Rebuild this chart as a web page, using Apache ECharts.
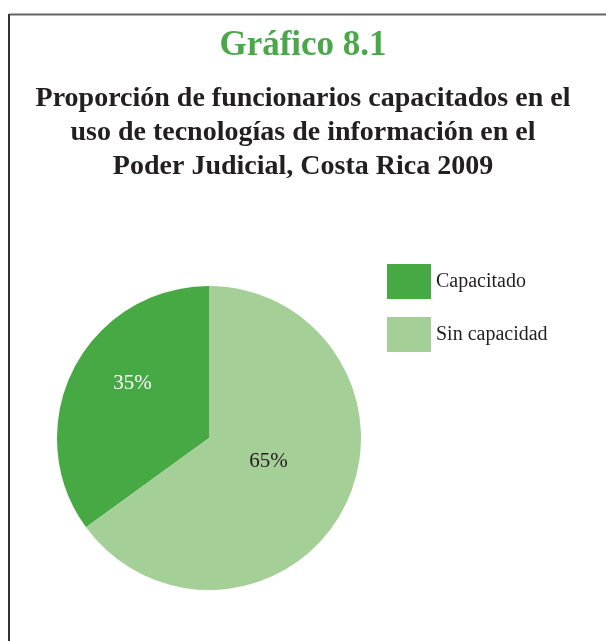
<!DOCTYPE html>
<html><head><meta charset="utf-8">
<script src="https://cdn.jsdelivr.net/npm/echarts@6/dist/echarts.min.js"></script>
<style>html,body{margin:0;padding:0;background:#fff}#c{width:606px;height:641px}</style>
</head><body><div id="c"></div>
<script>
const titleText = 'Gráfico 8.1';
const subtitleText = 'Proporción de funcionarios capacitados en el\nuso de tecnologías de información en el\nPoder Judicial, Costa Rica 2009';
const categories = ['Capacitado', 'Sin capacidad'];
const values = [35, 65];
const colors = ['#47a943', '#a4cf96'];
const labelColors = ['#ffffff', '#231f20'];
const labelOffsets = [[-6, -19], [-11, -12]];

const serif = '"Liberation Serif", "DejaVu Serif", serif';
const chart = echarts.init(document.getElementById('c'), null, {renderer: 'canvas'});
chart.setOption({
  animation: false,
  backgroundColor: '#ffffff',
  title: [
    {text: titleText, left: 'center', top: 23,
     textStyle: {fontFamily: serif, fontSize: 35, fontWeight: 'bold', color: '#4aa84a'}},
    {text: subtitleText, left: 'center', top: 77,
     textStyle: {fontFamily: serif, fontSize: 28, fontWeight: 'bold', color: '#231f20', lineHeight: 34}}
  ],
  legend: {
    orient: 'vertical', left: 387, top: 264, padding: 0,
    itemWidth: 44, itemHeight: 35, itemGap: 18,
    icon: 'rect',
    textStyle: {fontFamily: serif, fontSize: 20, color: '#231f20'},
    data: categories
  },
  series: [{
    type: 'pie',
    center: [209, 438],
    radius: [0, 152],
    startAngle: 90,
    clockwise: false,
    label: {show: true, position: 'inside', fontFamily: serif, fontSize: 21, formatter: '{c}%'},
    labelLine: {show: false},
    emphasis: {disabled: true},
    itemStyle: {borderWidth: 0},
    data: categories.map((n, i) => ({
      name: n, value: values[i],
      itemStyle: {color: colors[i]},
      label: {color: labelColors[i], offset: labelOffsets[i]}
    }))
  }],
  graphic: [
    {type: 'line', shape: {x1: 9, y1: 14.5, x2: 606, y2: 14.5}, style: {stroke: '#666666', lineWidth: 2}},
    {type: 'line', shape: {x1: 9, y1: 14, x2: 9, y2: 641}, style: {stroke: '#333333', lineWidth: 2}}
  ]
});
</script></body></html>
